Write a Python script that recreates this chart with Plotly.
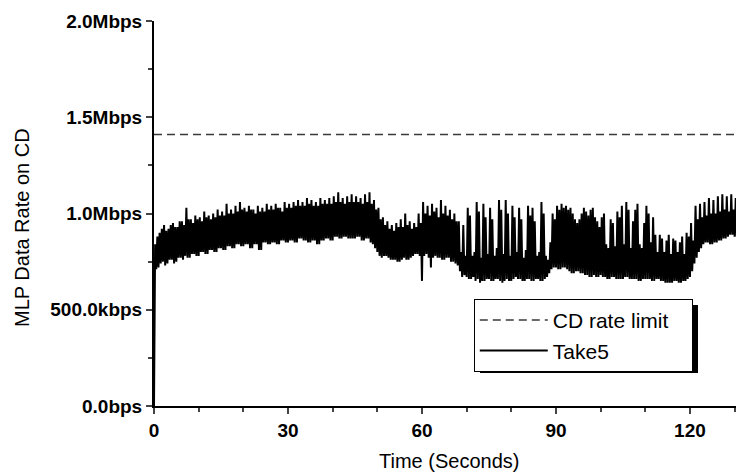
import plotly.graph_objects as go

# CD audio rate limit (Mbps)
cd_limit = 1.41

# Take5 data rate (Mbps), one low and one high per half second
# lows at t = 0, 0.5, 1.0, ...; highs at t = 0.25, 0.75, 1.25, ...
take5_low = [
    0.00, 0.71, 0.72, 0.74, 0.75, 0.73, 0.74, 0.76, 0.76, 0.74, 0.75, 0.77, 0.77, 0.76, 0.78, 0.77, 0.77, 0.79, 0.79, 0.78,
    0.78, 0.80, 0.80, 0.79, 0.79, 0.81, 0.81, 0.80, 0.80, 0.82, 0.82, 0.81, 0.81, 0.83, 0.83, 0.82, 0.82, 0.84, 0.84, 0.83,
    0.83, 0.84, 0.84, 0.82, 0.82, 0.84, 0.84, 0.81, 0.81, 0.85, 0.85, 0.84, 0.84, 0.85, 0.85, 0.84, 0.84, 0.86, 0.86, 0.85,
    0.85, 0.86, 0.86, 0.85, 0.85, 0.87, 0.87, 0.86, 0.86, 0.85, 0.85, 0.86, 0.86, 0.84, 0.84, 0.86, 0.86, 0.87, 0.87, 0.86,
    0.86, 0.88, 0.88, 0.87, 0.87, 0.88, 0.88, 0.87, 0.87, 0.87, 0.87, 0.88, 0.88, 0.86, 0.86, 0.87, 0.87, 0.85, 0.84, 0.82,
    0.80, 0.78, 0.77, 0.78, 0.78, 0.77, 0.76, 0.76, 0.76, 0.75, 0.75, 0.76, 0.77, 0.76, 0.76, 0.77, 0.78, 0.79, 0.79, 0.78,
    0.65, 0.78, 0.79, 0.77, 0.72, 0.77, 0.78, 0.77, 0.77, 0.76, 0.76, 0.77, 0.77, 0.75, 0.75, 0.74, 0.73, 0.70, 0.67, 0.68,
    0.67, 0.66, 0.66, 0.67, 0.65, 0.66, 0.64, 0.65, 0.65, 0.66, 0.66, 0.65, 0.65, 0.66, 0.66, 0.65, 0.64, 0.65, 0.66, 0.65,
    0.65, 0.66, 0.67, 0.66, 0.66, 0.65, 0.65, 0.66, 0.66, 0.65, 0.65, 0.66, 0.66, 0.65, 0.65, 0.66, 0.67, 0.69, 0.71, 0.72,
    0.72, 0.71, 0.71, 0.72, 0.72, 0.71, 0.70, 0.69, 0.69, 0.70, 0.70, 0.69, 0.69, 0.68, 0.68, 0.67, 0.67, 0.68, 0.67, 0.67,
    0.68, 0.67, 0.67, 0.66, 0.66, 0.67, 0.67, 0.66, 0.66, 0.66, 0.66, 0.67, 0.67, 0.66, 0.66, 0.66, 0.66, 0.65, 0.65, 0.66,
    0.66, 0.66, 0.66, 0.65, 0.65, 0.66, 0.66, 0.65, 0.65, 0.64, 0.64, 0.64, 0.64, 0.65, 0.65, 0.64, 0.64, 0.65, 0.65, 0.66,
    0.67, 0.70, 0.74, 0.77, 0.80, 0.82, 0.84, 0.85, 0.85, 0.84, 0.84, 0.85, 0.85, 0.86, 0.86, 0.87, 0.87, 0.88, 0.89, 0.89,
    0.88, 0.88, 0.88, 0.87, 0.88,
]
take5_high = [
    0.84, 0.88, 0.90, 0.92, 0.94, 0.91, 0.92, 0.94, 0.95, 0.93, 0.93, 0.96, 0.96, 0.94, 1.03, 0.97, 0.97, 0.95, 0.99, 0.97,
    0.98, 0.96, 1.01, 0.98, 0.99, 0.97, 1.00, 0.98, 1.02, 0.99, 1.01, 0.99, 1.05, 1.00, 1.02, 1.00, 1.04, 1.01, 1.06, 1.02,
    1.03, 1.01, 1.04, 1.02, 1.02, 1.00, 1.04, 1.01, 1.03, 1.01, 1.05, 1.02, 1.04, 1.02, 1.05, 1.03, 1.03, 1.01, 1.06, 1.03,
    1.05, 1.03, 1.06, 1.04, 1.07, 1.04, 1.06, 1.04, 1.08, 1.05, 1.07, 1.04, 1.06, 1.04, 1.08, 1.05, 1.07, 1.05, 1.08, 1.05,
    1.09, 1.06, 1.11, 1.06, 1.08, 1.05, 1.09, 1.06, 1.10, 1.06, 1.09, 1.06, 1.08, 1.05, 1.10, 1.06, 1.11, 1.05, 1.07, 1.02,
    1.03, 0.97, 0.98, 0.94, 0.96, 0.92, 0.94, 0.91, 0.95, 0.93, 0.97, 0.93, 1.00, 0.94, 0.96, 0.92, 0.95, 0.93, 1.00, 0.95,
    1.06, 1.00, 1.04, 0.99, 1.05, 1.01, 1.03, 0.98, 1.07, 1.00, 1.04, 0.99, 1.02, 0.97, 1.00, 0.96, 0.96, 0.80, 0.94, 0.78,
    1.03, 0.99, 0.78, 0.80, 1.06, 1.01, 0.77, 1.05, 0.98, 0.79, 1.03, 0.97, 0.78, 0.82, 1.07, 1.02, 0.79, 1.07, 1.00, 0.78,
    1.04, 0.98, 0.80, 1.03, 0.97, 0.77, 0.81, 1.04, 0.99, 1.03, 0.96, 0.78, 0.80, 1.06, 1.00, 0.78, 0.76, 0.85, 1.00, 0.97,
    1.04, 1.02, 1.05, 1.03, 1.04, 1.02, 1.03, 1.00, 0.97, 0.95, 0.97, 1.00, 1.03, 1.01, 0.99, 1.02, 1.03, 0.98, 0.96, 0.93,
    0.98, 1.00, 0.84, 0.82, 0.97, 0.95, 0.83, 1.01, 0.98, 1.04, 0.84, 1.06, 1.02, 0.82, 0.96, 1.02, 1.05, 0.84, 0.82, 0.95,
    1.04, 1.00, 0.85, 0.98, 0.89, 0.80, 0.89, 0.87, 0.80, 0.86, 0.89, 0.79, 0.87, 0.86, 0.80, 0.85, 0.88, 0.79, 0.90, 0.88,
    0.95, 0.86, 1.04, 0.97, 1.05, 0.98, 1.06, 0.99, 1.08, 1.00, 1.07, 1.00, 1.09, 1.01, 1.10, 1.02, 1.09, 1.01, 1.10, 1.02,
    1.08, 1.00, 1.07, 1.01,
]

y_tickvals = [0, 0.5, 1.0, 1.5, 2.0]
y_ticktext = ['0.0bps', '500.0kbps', '1.0Mbps', '1.5Mbps', '2.0Mbps']
x_tickvals = [0, 30, 60, 90, 120]

# interleave lows and highs into one time series
t = []
v = []
for i, lo in enumerate(take5_low):
    t.append(i * 0.5)
    v.append(lo)
    if i < len(take5_high):
        t.append(i * 0.5 + 0.25)
        v.append(take5_high[i])

fig = go.Figure()

# trailing no-break spaces widen the legend box a little, like the original
fig.add_trace(go.Scatter(
    x=[0, 140], y=[cd_limit, cd_limit], mode='lines',
    name='CD rate limit\u00a0\u00a0\u00a0',
    line=dict(color='#3a3a3a', width=1.5, dash='8px,5px')))

fig.add_trace(go.Scatter(
    x=t, y=v, mode='lines', name='Take5',
    line=dict(color='black', width=2)))

# the page body adds an 8px offset, so the figure is 8px smaller than the window
fig.update_layout(
    width=736, height=466,
    margin=dict(l=146, r=0, t=13, b=68),
    paper_bgcolor='white', plot_bgcolor='white',
    font=dict(family='Liberation Sans, Arial', size=20, color='black'),
    showlegend=True,
    legend=dict(x=0.542, y=0.278, xanchor='left', yanchor='top',
                bgcolor='white', bordercolor='black', borderwidth=1,
                font=dict(size=21), itemwidth=68, tracegroupgap=0),
    xaxis=dict(
        range=[0, 132.1], tickvals=x_tickvals, ticks='outside', ticklen=6,
        tickwidth=1.5, showline=True, linecolor='black', linewidth=2,
        showgrid=False, zeroline=False,
        tickfont=dict(family='Liberation Sans, Arial', size=19, weight='bold'),
        minor=dict(dtick=10, ticks='outside', ticklen=4, tickwidth=1.5)),
    yaxis=dict(
        range=[0, 2.0], tickvals=y_tickvals, ticktext=y_ticktext,
        ticks='outside', ticklen=6, tickwidth=1.5, showline=True,
        linecolor='black', linewidth=2, showgrid=False, zeroline=False,
        tickfont=dict(family='Liberation Sans, Arial', size=19, weight='bold'),
        minor=dict(dtick=0.25, ticks='outside', ticklen=4, tickwidth=1.5)),
)

# axis titles (plot area spans x 154..744, y 21..406 in the window)
fig.add_annotation(text='MLP Data Rate on CD', xref='paper', yref='paper',
                   x=(22 - 154) / 590, y=(406 - 228) / 385, textangle=-90,
                   showarrow=False, xanchor='center', yanchor='middle')
fig.add_annotation(text='Time (Seconds)', xref='paper', yref='paper',
                   x=(449 - 154) / 590, y=(406 - 461) / 385,
                   showarrow=False, xanchor='center', yanchor='middle')

# drop shadow behind the legend box
fig.add_shape(type='rect', xref='paper', yref='paper',
              x0=(480 - 154) / 590, x1=(698 - 154) / 590,
              y0=(406 - 373) / 385, y1=(406 - 305) / 385,
              fillcolor='black', line=dict(width=0), layer='above')

fig.write_html("out.html")
